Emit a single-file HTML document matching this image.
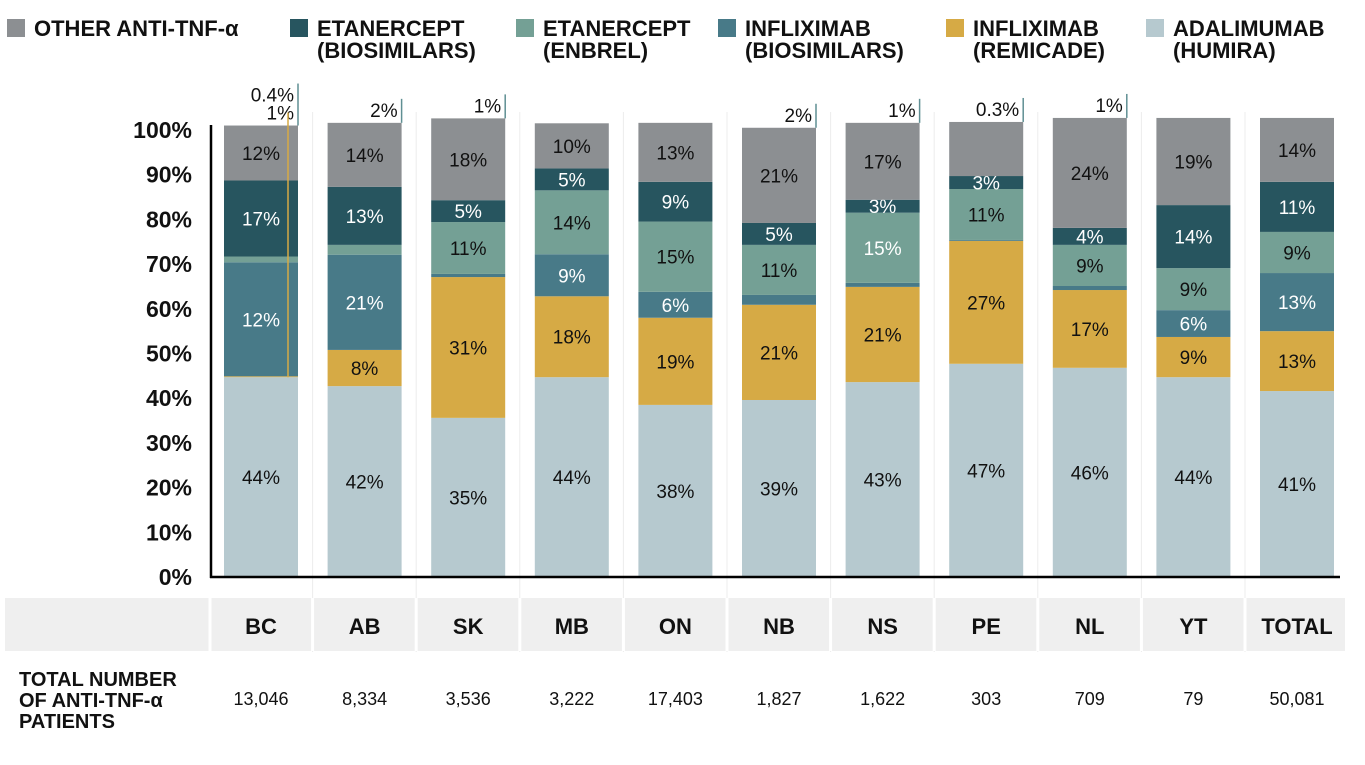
<!DOCTYPE html>
<html><head><meta charset="utf-8">
<style>
body{margin:0;background:#fff;width:1365px;height:765px;overflow:hidden;font-family:"Liberation Sans Narrow","Liberation Sans",sans-serif;}
svg{display:block}
.bold{font-weight:bold;}
</style></head>
<body>
<svg id="chart" width="1365" height="765" xmlns="http://www.w3.org/2000/svg"></svg>
<script>
const categories=["BC","AB","SK","MB","ON","NB","NS","PE","NL","YT","TOTAL"];
const patients=["13,046","8,334","3,536","3,222","17,403","1,827","1,622","303","709","79","50,081"];
const seriesNames=["adalimumab-humira","infliximab-remicade","infliximab-biosimilars","etanercept-enbrel","etanercept-biosimilars","other-anti-tnf"];
const adalimumab=[44.7,42.7,35.6,44.7,38.5,39.6,43.6,47.7,46.8,44.7,41.6];
const remicade=[0.2,8.1,31.5,18.1,19.5,21.3,21.3,27.5,17.4,9.0,13.4];
const inflixBio=[25.5,21.3,0.7,9.4,5.8,2.2,0.9,0.2,0.9,6.0,13.0];
const enbrel=[1.3,2.2,11.6,14.3,15.7,11.2,15.7,11.4,9.2,9.4,9.2];
const etanBio=[17.0,13.0,4.9,4.9,8.9,4.9,2.9,2.9,3.8,14.1,11.2];
const other=[12.3,14.3,18.3,10.1,13.2,21.3,17.2,12.1,24.6,19.5,14.3];
const adalLabels=["44%","42%","35%","44%","38%","39%","43%","47%","46%","44%","41%"];
const remLabels=["","8%","31%","18%","19%","21%","21%","27%","17%","9%","13%"];
const ibLabels=["12%","21%","","9%","6%","","","","","6%","13%"];
const enbLabels=["","","11%","14%","15%","11%","15%","11%","9%","9%","9%"];
const ebLabels=["17%","13%","5%","5%","9%","5%","3%","3%","4%","14%","11%"];
const othLabels=["12%","14%","18%","10%","13%","21%","17%","","24%","19%","14%"];
const topNotes=["1%","2%","1%","","","2%","1%","0.3%","1%","",""];
const yTicks=[0,10,20,30,40,50,60,70,80,90,100];
const legendNames=["OTHER ANTI-TNF-α",["ETANERCEPT","(BIOSIMILARS)"],["ETANERCEPT","(ENBREL)"],["INFLIXIMAB","(BIOSIMILARS)"],["INFLIXIMAB","(REMICADE)"],["ADALIMUMAB","(HUMIRA)"]];

const colors=["#b6c9cf","#d6aa45","#487a88","#74a095","#27555f","#8c8f92"];
const txtColors=["#111","#111","#fff","#111","#fff","#111"];
const series=[adalimumab,remicade,inflixBio,enbrel,etanBio,other];
const labels=[adalLabels,remLabels,ibLabels,enbLabels,ebLabels,othLabels];
const NS="http://www.w3.org/2000/svg";
const svg=document.getElementById('chart');
function el(tag,attrs,parent){const e=document.createElementNS(NS,tag);for(const k in attrs)e.setAttribute(k,attrs[k]);(parent||svg).appendChild(e);return e;}
const y0=577,pxPer=4.47;
function yScale(v){return y0-v*pxPer;}
const bw=74;
function xLeft(i){return 224+i*103.6;}

// separators
for(let i=1;i<categories.length;i++){
  const x=xLeft(i)-15;
  const s=el('line',{x1:x,x2:x,y1:112,y2:652,stroke:'#ececec','stroke-width':1});
  
  
}
// category row
const row=el('rect',{x:5,y:598,width:1340,height:53,fill:'#efefef'});


for(let i=0;i<=categories.length;i++){
  const x=i===0?210:xLeft(i)-15;
  const l=el('line',{x1:x,x2:x,y1:598,y2:651,stroke:'#fff','stroke-width':3});
  
  
}
// y ticks
yTicks.forEach(t=>{
  const tx=el('text',{x:192,y:yScale(t)+8,'text-anchor':'end','font-size':23,'font-weight':'bold',fill:'#111'});
  tx.textContent=t+'%';
  
  
});
// bars
categories.forEach((c,i)=>{
  let cum=0;const x=xLeft(i);
  series.forEach((s,k)=>{
    const v=s[i];const yt=yScale(cum+v),yb=yScale(cum);
    const r=el('rect',{x:x,y:yt,width:bw,height:Math.max(0,yb-yt),fill:colors[k]});
    
    
    const lab=labels[k][i];
    if(lab){
      let col=txtColors[k];
      if(k===3&&c==="NS")col="#fff";
      const t=el('text',{x:x+bw/2,y:(yt+yb)/2+7,'text-anchor':'middle','font-size':19,fill:col});
      t.textContent=lab;
      
      
    }
    cum+=v;
  });
  const top=yScale(cum);
  if(topNotes[i]){
    const ln=el('line',{x1:x+bw,x2:x+bw,y1:top-24-(i===0?18:0),y2:top,stroke:'#5f8f93','stroke-width':1.5});
    
    
    const t=el('text',{x:x+bw-4,y:top-6,'text-anchor':'end','font-size':19,fill:'#111'});
    t.textContent=topNotes[i];
    
    
  }
  if(i===0){
    const yl=el('line',{x1:x+64,x2:x+64,y1:top-13,y2:yScale(adalimumab[0]),stroke:'#d6aa45','stroke-width':1.5});
    
    
    const t=el('text',{x:x+bw-4,y:top-24,'text-anchor':'end','font-size':19,fill:'#111'});
    t.textContent='0.4%';
    
    
  }
  const cl=el('text',{x:x+bw/2,y:634,'text-anchor':'middle','font-size':22,'font-weight':'bold',fill:'#111'});
  cl.textContent=c;
  
  
  const pl=el('text',{x:x+bw/2,y:705,'text-anchor':'middle','font-size':18,fill:'#111'});
  pl.textContent=patients[i];
  
  
});
// axes
const ya=el('line',{x1:211,x2:211,y1:125,y2:578,stroke:'#000','stroke-width':2.5});


const xa=el('line',{x1:210,x2:1340,y1:577,y2:577,stroke:'#000','stroke-width':2.5});


// row title
["TOTAL NUMBER","OF ANTI-TNF-α","PATIENTS"].forEach((s,j)=>{
  const t=el('text',{x:19,y:686+j*21,'font-size':20,'font-weight':'bold',fill:'#111'});
  t.textContent=s;
  
  
});
// legend
const lx=[7,290,516,718,946,1146];
const lcol=[colors[5],colors[4],colors[3],colors[2],colors[1],colors[0]];
legendNames.forEach((n,j)=>{
  const g=el('g',{});
  
  
  el('rect',{x:lx[j],y:19,width:18,height:18,fill:lcol[j]},g);
  const lines=Array.isArray(n)?n:[n];
  lines.forEach((s,k)=>{
    const t=el('text',{x:lx[j]+27,y:36+k*22,'font-size':22,'font-weight':'bold',fill:'#111'},g);
    t.textContent=s;
  });
});
</script>
</body></html>
